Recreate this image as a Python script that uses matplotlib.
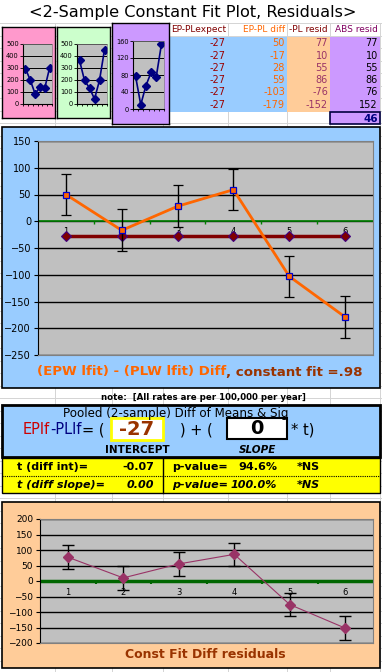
import matplotlib
matplotlib.use("Agg")
import matplotlib.pyplot as plt
from matplotlib.patches import Rectangle
import numpy as np

W, H = 382, 672

# ---- data
cats = [1, 2, 3, 4, 5, 6]
ep_lfit = [295, 200, 85, 140, 133, 300]
pl_lfit = [364, 197, 133, 42, 197, 453]
abs_resid = [77, 10, 55, 86, 76, 152]
expect = [-27, -27, -27, -27, -27, -27]
diff = [50, -17, 28, 59, -103, -179]
resid = [77, 10, 55, 86, -76, -152]
err = [38, 39, 39, 38, 38, 39]
mean_abs = 46
intercept, slope = -27, 0
t_int, p_int = "-0.07", "94.6%"
t_slope, p_slope = "0.00", "100.0%"

FONT = "DejaVu Sans"
plt.rcParams["font.family"] = FONT

fig = plt.figure(figsize=(W / 100, H / 100), dpi=100)
fig.patch.set_facecolor("white")

bg = fig.add_axes([0, 0, 1, 1])
bg.set_xlim(0, W)
bg.set_ylim(H, 0)
bg.axis("off")


def ax_at(x0, y0, x1, y1):
    return fig.add_axes([x0 / W, 1 - y1 / H, (x1 - x0) / W, (y1 - y0) / H])


def rect(x0, y0, x1, y1, fc, ec="none", lw=0, **kw):
    bg.add_patch(Rectangle((x0, y0), x1 - x0, y1 - y0, fc=fc, ec=ec, lw=lw, **kw))


# spreadsheet grid
for x in [55, 112, 163, 228, 287, 330, 380]:
    bg.plot([x, x], [23, H], color="#d4d4d4", lw=0.7, zorder=0)
for y in np.arange(23, H, 12.5):
    bg.plot([0, W], [y, y], color="#d4d4d4", lw=0.7, zorder=0)

bg.text(193, 12, "<2-Sample Constant Fit Plot, Residuals>", ha="center", va="center",
        fontsize=11.6)

# ---- table at top right
rect(163, 37, 287, 112, "#99CCFF")
rect(287, 37, 330, 112, "#FFCC99")
rect(330, 37, 380, 112, "#CC99FF")
rect(330, 112, 380, 124, "#CC99FF", ec="#000040", lw=1.2)
col_r = [226, 285, 328, 378]
heads = ["EP-PLexpect", "EP-PL diff", "-PL resid", "ABS resid"]
head_c = ["#800000", "#FF6600", "#800000", "#800060"]
val_c = ["#990000", "#FF6600", "#993366", "black"]
for xr, hd, hc in zip(col_r, heads, head_c):
    bg.text(xr, 30, hd, ha="right", va="center", fontsize=6.5, color=hc)
for i in range(6):
    yy = 43.5 + 12.2 * i
    for xr, v, vc in zip(col_r, [expect[i], diff[i], resid[i], abs_resid[i]], val_c):
        bg.text(xr, yy, str(v), ha="right", va="center", fontsize=7, color=vc)
bg.text(378, 118.5, str(mean_abs), ha="right", va="center", fontsize=7.5,
        fontweight="bold", color="#000080")


# ---- small charts
def mini(panel, plot, fc, vals, ymax, yticks):
    p = ax_at(*panel)
    p.set_facecolor(fc)
    p.set_xticks([])
    p.set_yticks([])
    for s in p.spines.values():
        s.set_linewidth(1)
    a = ax_at(*plot)
    a.set_facecolor("#C0C0C0")
    a.plot(cats, vals, color="#000080", marker="D", ms=4.2, lw=1.2)
    a.set_xlim(0.5, 6.5)
    a.set_ylim(0, ymax)
    a.set_yticks(yticks)
    a.set_yticklabels([str(t) for t in yticks], fontsize=4.8)
    a.yaxis.grid(True, color="black", lw=0.7)
    a.set_axisbelow(True)
    a.set_xticks(np.arange(0.5, 7, 1))
    a.set_xticklabels([])
    a.tick_params(axis="x", length=1.5, width=0.6)
    a.tick_params(axis="y", length=2, width=0.6, pad=1)
    for k in ["top", "right"]:
        a.spines[k].set_color("#808080")
        a.spines[k].set_linewidth(0.5)


mini((2, 27, 55, 118), (23, 44, 52, 104), "#FF99CC", ep_lfit, 500, [0, 100, 200, 300, 400, 500])
mini((57, 27, 110, 118), (77, 44, 107, 104), "#CCFFCC", pl_lfit, 500, [0, 100, 200, 300, 400, 500])
mini((112, 23, 169, 124), (133, 41, 164, 109), "#CC99FF", abs_resid, 160, [0, 40, 80, 120, 160])

# ---- main chart
rect(2, 127, 380, 388, "#99CCFF", ec="black", lw=1.2)
ax = ax_at(38, 141, 373, 355)
ax.set_facecolor("#C0C0C0")
ax.set_xlim(0.5, 6.5)
ax.set_ylim(-250, 150)
ax.set_yticks(range(-250, 151, 50))
ax.tick_params(axis="y", labelsize=7, length=3, pad=2)
ax.set_xticks([])
ax.yaxis.grid(True, color="black", lw=1)
ax.set_axisbelow(True)
for k in ["top", "right", "bottom"]:
    ax.spines[k].set_color("#808080")
    ax.spines[k].set_linewidth(0.8)
ax.axhline(0, color="#008000", lw=1.2, zorder=2)
ax.vlines(np.arange(1.5, 6.5, 1), -5, 0, color="#008000", lw=1, zorder=2)
for c in cats:
    ax.text(c, -10, str(c), ha="center", va="top", fontsize=6, zorder=2)
ax.plot(cats, expect, color="#800000", lw=2.5, marker="D", ms=5.5, mfc="#800000",
        mec="#400080", mew=0.8, zorder=3)
ax.errorbar(cats, diff, yerr=err, color="#FF6600", lw=2, marker="s", ms=5,
            mfc="#FF6600", mec="#0000CC", mew=0.9, ecolor="black", elinewidth=1,
            capsize=3.5, capthick=1, zorder=4)
t1 = bg.text(37, 372, "(EPW lfit) - (PLW lfit) Diff", ha="left", va="center",
             fontsize=9.6, fontweight="bold", color="#FF6600")
bg.annotate(", constant fit =.98", xy=(1, 0.5), xycoords=t1, ha="left", va="center",
            fontsize=9.6, fontweight="bold", color="#993300")

bg.text(203, 397, "note:  [All rates are per 100,000 per year]", ha="center", va="center",
        fontsize=6.2, fontweight="bold")

# ---- pooled diff box
rect(2, 405, 380, 457, "#99CCFF", ec="black", lw=2)
bg.text(176, 413.5, "Pooled (2-sample) Diff of Means & Sig", ha="center", va="center",
        fontsize=8.6)
e1 = bg.text(23, 430, "EPlf", ha="left", va="center", fontsize=10.5, color="#CC0000")
e2 = bg.annotate("-PLlf", xy=(1, 0.5), xycoords=e1, ha="left", va="center",
                 fontsize=10.5, color="#000080")
bg.annotate("= (", xy=(1, 0.5), xycoords=e2, ha="left", va="center", fontsize=10.5)
rect(111, 418, 163, 440, "white", ec="#FFFF00", lw=2)
bg.text(137, 429.5, str(intercept), ha="center", va="center", fontsize=14,
        fontweight="bold", color="#993300")
bg.text(180, 430, ") + (", ha="left", va="center", fontsize=10.5)
rect(227, 418, 287, 439, "white", ec="black", lw=1.5)
bg.text(257, 429, str(slope), ha="center", va="center", fontsize=14, fontweight="bold")
bg.text(291, 430, "* t)", ha="left", va="center", fontsize=10.5)
bg.text(137, 450, "INTERCEPT", ha="center", va="center", fontsize=7.5, fontweight="bold")
bg.text(258, 450, "SLOPE", ha="center", va="center", fontsize=7.5, fontweight="bold",
        style="italic")

# ---- t / p rows
rect(2, 458, 380, 493, "#FFFF00", ec="black", lw=1)
bg.plot([163, 163], [458, 493], color="black", lw=1)
bg.plot([2, 380], [476, 476], color="black", lw=0.8, ls=(0, (1, 1)))
for yy, lab, tv, pv, st in [(467, "t (diff int)=", t_int, p_int, "normal"),
                            (485, "t (diff slope)=", t_slope, p_slope, "italic")]:
    kw = dict(va="center", fontsize=8, fontweight="bold", style=st)
    bg.text(17, yy, lab, ha="left", **kw)
    bg.text(154, yy, tv, ha="right", **kw)
    bg.text(172, yy, "p-value=", ha="left", **kw)
    bg.text(277, yy, pv, ha="right", **kw)
    bg.text(297, yy, "*NS", ha="left", **kw)

# ---- residual chart
rect(2, 502, 380, 668, "#FFCC99", ec="black", lw=1.2)
ax2 = ax_at(40, 519, 373, 643)
ax2.set_facecolor("#C0C0C0")
ax2.set_xlim(0.5, 6.5)
ax2.set_ylim(-200, 200)
ax2.set_yticks(range(-200, 201, 50))
ax2.tick_params(axis="y", labelsize=6.5, length=3, pad=2)
ax2.set_xticks([])
ax2.yaxis.grid(True, color="black", lw=1)
ax2.set_axisbelow(True)
for k in ["top", "right", "bottom"]:
    ax2.spines[k].set_color("#808080")
    ax2.spines[k].set_linewidth(0.8)
ax2.axhline(0, color="#006600", lw=2.5, zorder=2)
ax2.vlines(np.arange(1.5, 6.5, 1), -10, 0, color="#006600", lw=1.5, zorder=2)
for c in cats:
    ax2.text(c, -22, str(c), ha="center", va="top", fontsize=6, zorder=2)
ax2.errorbar(cats, resid, yerr=err, color="#993366", lw=0.8, marker="D", ms=5,
             mfc="#993366", mec="#993366", ecolor="black", elinewidth=1,
             capsize=4, capthick=1, zorder=4)
bg.text(205, 655, "Const Fit Diff residuals", ha="center", va="center", fontsize=9,
        fontweight="bold", color="#993300")

fig.savefig("out.png", dpi=100)
